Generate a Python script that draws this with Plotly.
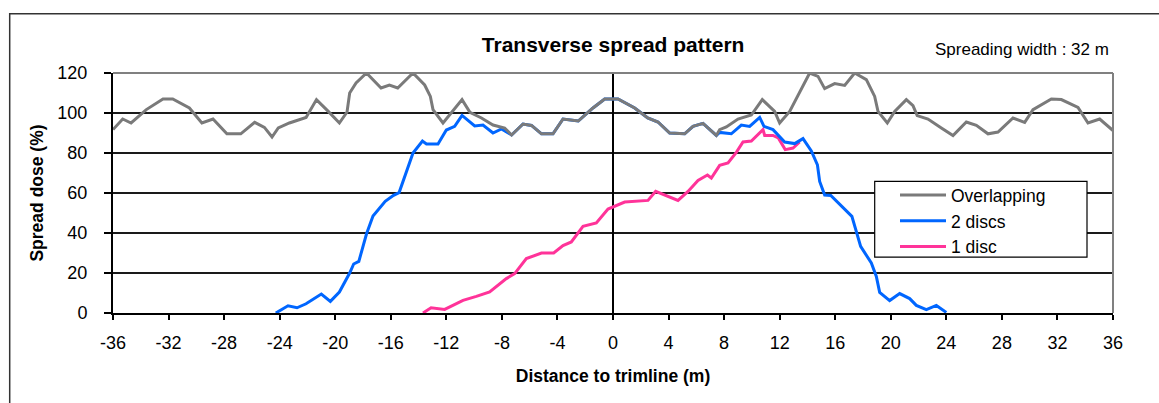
import plotly.graph_objects as go

# ---- data ----
overlap_x = [-36.0, -35.3, -34.7, -33.6, -32.4, -31.7, -30.5, -29.6, -28.8, -27.8, -26.8, -25.8, -25.1,
             -24.55, -24.1, -23.3, -22.1, -21.35, -20.5, -19.7, -19.15, -18.96, -18.5, -17.75, -16.7,
             -16.1, -15.5, -14.4, -13.56, -13.15, -12.96, -12.24, -10.87, -10.3, -9.47, -8.64, -7.8,
             -7.3, -6.48, -5.87, -5.15, -4.32, -3.6, -2.5, -1.44, -0.6, 0.36, 1.56, 2.5, 3.24, 4.08,
             5.16, 5.76, 6.48, 7.44, 7.68, 8.16, 9.0, 9.96, 10.75, 11.64, 12.0, 12.72, 14.16, 14.76,
             15.24, 15.96, 16.68, 17.4, 18.24, 18.84, 19.08, 19.75, 20.28, 21.12, 21.6, 21.9, 22.68,
             23.64, 24.48, 25.44, 26.16, 27.0, 27.72, 28.8, 29.64, 30.24, 31.56, 32.28, 33.48, 34.2,
             35.04, 36.0]
overlap_y = [91.7, 97, 95, 101.7, 107, 107, 102.5, 95, 97, 89.6, 89.6, 95.3, 92.8,
             88, 92.5, 95, 97.8, 106.7, 100.8, 95, 100.5, 110, 115, 120, 112.5,
             114, 112.5, 120, 114, 108.3, 101.7, 95, 106.7, 100.3, 97.5, 94, 92.5,
             89, 94.5, 93.8, 89.6, 89.6, 97, 96, 102.5, 107, 107, 102.5, 97.5, 95.5, 90,
             89.6, 93.3, 94.8, 88.8, 91.7, 93, 97, 99, 106.7, 100.8, 95, 100.8, 120, 118.3,
             112.2, 114.7, 113.8, 120, 116.7, 108.3, 100.8, 95, 100.8, 106.7, 103.7, 98.7, 97,
             92.5, 88.7, 95.5, 93.8, 89.6, 90.5, 97.5, 95.3, 101.7, 107, 106.7, 102.8, 95,
             97, 91.2]

two_x = [-24.28, -23.4, -22.75, -22.1, -21.0, -20.35, -19.7, -19.2, -18.96, -18.67, -18.3, -17.75,
         -17.28, -16.4, -15.8, -15.4, -14.4, -13.72, -13.43, -12.6, -12.0, -11.4, -10.87, -9.96,
         -9.36, -8.64, -8.03, -7.3, -6.48, -5.87, -5.15, -4.32, -3.6, -2.5, -1.44, -0.6, 0.36,
         1.56, 2.5, 3.24, 4.08, 5.16, 5.76, 6.48, 7.44, 7.68, 8.52, 9.24, 9.84, 10.56, 10.87,
         11.52, 12.36, 13.08, 13.68, 14.28, 14.72, 14.88, 15.24, 15.68, 17.2, 17.83, 18.6, 18.96,
         19.2, 19.92, 20.64, 21.36, 21.84, 22.56, 23.28, 24.0]
two_y = [0, 3.6, 2.6, 4.6, 9.5, 5.8, 10.5, 16.6, 20, 24.5, 25.8, 39.5,
         48.5, 55.8, 58.8, 60.2, 80, 86, 84.5, 84.5, 91.5, 93.3, 98.8, 93.5,
         94, 90, 92, 89, 94.5, 93.8, 89.6, 89.6, 97, 96, 102.5, 107, 107,
         102.5, 97.5, 95.5, 90, 89.6, 93.3, 94.8, 88.8, 90.3, 89.6, 94, 93.3, 97.8, 93.3,
         91.7, 85.5, 84.7, 87.2, 81, 74, 65.8, 59, 58.8, 48.3, 33.3, 25, 18.3,
         10.3, 6.2, 9.7, 7.2, 3.8, 1.7, 3.8, 0.3]

one_x = [-13.68, -13.1, -12.12, -10.8, -9.84, -8.88, -7.68, -7.08, -6.24, -5.15, -4.27, -3.6, -3.0,
         -2.16, -1.2, -0.36, 0.84, 2.52, 3.07, 4.68, 5.4, 6.12, 6.8, 7.08, 7.68, 8.28, 8.88, 9.36,
         9.96, 10.44, 10.8, 10.92, 11.52, 11.9, 12.4, 12.96, 13.44]
one_y = [0, 2.6, 1.8, 6.3, 8.3, 10.5, 17.2, 19.7, 27.2, 30, 30, 33.7, 35.5,
         43.3, 45, 52, 55.5, 56.3, 60.8, 56.3, 60.8, 66.3, 69, 67.5, 73.8, 75, 80.3, 85.5,
         86, 89, 91.7, 88.8, 88.8, 87.5, 81.7, 82.5, 85.5]

x_ticks = list(range(-36, 37, 4))
y_ticks = list(range(0, 121, 20))

FONT = "Liberation Sans, Arial, sans-serif"

fig = go.Figure()
fig.add_trace(go.Scatter(x=one_x, y=one_y, mode="lines", name="1 disc",
                         line=dict(color="#ff3399", width=3)))
fig.add_trace(go.Scatter(x=two_x, y=two_y, mode="lines", name="2 discs",
                         line=dict(color="#0066ff", width=3)))
fig.add_trace(go.Scatter(x=overlap_x, y=overlap_y, mode="lines", name="Overlapping",
                         line=dict(color="#7a7a7a", width=3)))

fig.update_layout(
    width=1159, height=403,
    margin=dict(l=113, r=46, t=73, b=90),
    paper_bgcolor="white", plot_bgcolor="white",
    font=dict(family=FONT, color="black"),
    title=dict(text="<b>Transverse spread pattern</b>", font=dict(size=21, family=FONT, color="black"),
               x=0.529, xanchor="center", xref="container", y=0.89, yanchor="middle", yref="container"),
    showlegend=True,
    legend=dict(traceorder="reversed", x=0.782, y=0.566, xanchor="left", yanchor="top",
                bgcolor="rgba(0,0,0,0)", borderwidth=0, font=dict(size=17.5, family=FONT),
                itemwidth=46, tracegroupgap=0),
    xaxis=dict(range=[-36, 36], tickvals=x_ticks, ticktext=[str(v) for v in x_ticks],
               showgrid=False, zeroline=True, zerolinecolor="black", zerolinewidth=2,
               showline=True, linecolor="black", linewidth=2,
               ticks="outside", ticklen=5, tickwidth=1.5, tickcolor="black",
               tickfont=dict(size=18, family=FONT, color="black"), ticklabelstandoff=7,
               title=dict(text="<b>Distance to trimline (m)</b>", font=dict(size=17.5, family=FONT),
                          standoff=18)),
    yaxis=dict(range=[0, 120], tickvals=y_ticks, ticktext=[str(v) for v in y_ticks],
               showgrid=True, gridcolor="#1a1a1a", gridwidth=1.5, zeroline=False,
               showline=True, linecolor="black", linewidth=2,
               ticks="outside", ticklen=7, tickwidth=1.5, tickcolor="black",
               tickfont=dict(size=18, family=FONT, color="black"), ticklabelstandoff=13,
               title=dict(text="<b>Spread dose (%)</b>", font=dict(size=17.5, family=FONT),
                          standoff=9)),
)

# plot frame (top + right edges, gray)
fig.add_shape(type="line", xref="paper", yref="paper", x0=0, x1=1, y0=1, y1=1,
              line=dict(color="#808080", width=2), layer="above")
fig.add_shape(type="line", xref="paper", yref="paper", x0=1, x1=1, y0=0, y1=1,
              line=dict(color="#808080", width=2), layer="above")
# legend box
fig.add_shape(type="rect", xref="paper", yref="paper", x0=0.7617, x1=0.974, y0=0.2326, y1=0.5483,
              line=dict(color="black", width=1.2), fillcolor="white", layer="above")
# outer chart frame
fig.add_shape(type="rect", xref="paper", yref="paper", x0=-0.1033, x1=1.2, y0=-0.6, y1=1.247,
              line=dict(color="#333333", width=1.5), fillcolor="rgba(0,0,0,0)", layer="above")

fig.add_annotation(text="Spreading width : 32 m", xref="paper", yref="paper", x=0.998, y=1.097,
                   xanchor="right", yanchor="middle", showarrow=False,
                   font=dict(size=17, family=FONT, color="black"))

fig.write_html("out.html", config={"displayModeBar": False},
               post_script="document.body.style.margin='0px';")
